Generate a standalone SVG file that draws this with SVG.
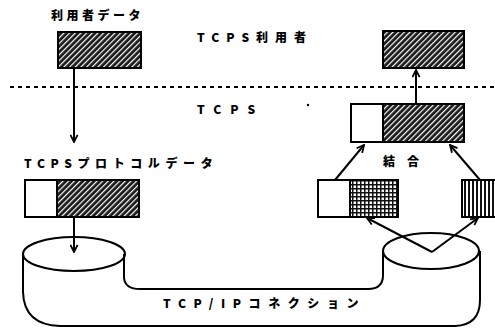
<svg xmlns="http://www.w3.org/2000/svg" width="495" height="329" viewBox="0 0 495 329">
<defs>
<pattern id="hatch" width="4" height="4" patternUnits="userSpaceOnUse" patternTransform="rotate(45)">
<rect width="4" height="4" fill="#1a1a1a"/>
<rect x="0" y="0" width="1.2" height="4" fill="#ffffff"/>
</pattern>
<pattern id="grid" width="4" height="4" patternUnits="userSpaceOnUse">
<rect width="4" height="4" fill="#ffffff"/>
<rect x="0" y="0" width="4" height="1.5" fill="#111"/>
<rect x="0" y="0" width="1.5" height="4" fill="#111"/>
</pattern>
<pattern id="vstripe" width="4" height="4" patternUnits="userSpaceOnUse">
<rect width="4" height="4" fill="#ffffff"/>
<rect x="0" y="0" width="2" height="4" fill="#111"/>
</pattern>
<marker id="ah" viewBox="0 0 10 10" refX="9" refY="5" markerWidth="9" markerHeight="9" orient="auto" markerUnits="userSpaceOnUse">
<path d="M1,1 L9,5 L1,9" fill="none" stroke="#000" stroke-width="2"/>
</marker>
</defs>
<style>
.t{font-family:"Noto Sans CJK JP","DejaVu Sans",sans-serif;font-weight:900;font-size:12px;fill:#000}
.b{stroke:#000;stroke-width:2;fill:none}
.c{stroke:#000;stroke-width:2;fill:none;marker-end:url(#ah)}
</style>
<rect width="495" height="329" fill="#fff"/>

<line x1="10" y1="87" x2="495" y2="87" stroke="#000" stroke-width="2" stroke-dasharray="4,4"/>

<text class="t" x="197" y="42" letter-spacing="7">TCPS利用者</text>
<text class="t" x="197" y="114" letter-spacing="9">TCPS</text>
<circle cx="308" cy="105" r="1.2" fill="#000"/>

<g id="cylinders">
<path class="b" d="M23,254 L23,292 Q24,325 60,326 L455,326 Q480,325 480,300 L480,251"/>
<path class="b" d="M124,254 L124,278 Q125,289 140,289 L368,289 Q383,289 383,275 L383,251"/>
<ellipse class="b" cx="74" cy="254" rx="51" ry="17" fill="#fff"/>
<ellipse class="b" cx="431" cy="251" rx="48" ry="18" fill="#fff"/>
</g>

<g id="connectors">
<line class="c" x1="74" y1="68" x2="74" y2="142"/>
<line class="c" x1="74" y1="217" x2="74" y2="252"/>
<line class="c" x1="416" y1="103" x2="416" y2="70"/>
<line class="c" x1="335" y1="180" x2="364" y2="145"/>
<line class="c" x1="480" y1="180" x2="450" y2="145"/>
<line class="c" x1="432" y1="252" x2="367" y2="218"/>
<line class="c" x1="432" y1="252" x2="478" y2="218"/>
</g>

<g id="user-data">
<text class="t" x="51" y="20" letter-spacing="3.5">利用者データ</text>
<rect x="58" y="32" width="83" height="36" fill="url(#hatch)" stroke="#000" stroke-width="2"/>
</g>

<g id="user-right">
<rect x="383" y="31" width="81" height="37" fill="url(#hatch)" stroke="#000" stroke-width="2"/>
</g>

<g id="protocol-data">
<text class="t" x="24" y="168" letter-spacing="5.6">TCPSプロトコルデータ</text>
<rect x="25" y="180" width="32" height="37" fill="#fff" stroke="#000" stroke-width="2"/>
<rect x="57" y="180" width="82" height="37" fill="url(#hatch)" stroke="#000" stroke-width="2"/>
</g>

<g id="combined">
<rect x="351" y="104" width="32" height="38" fill="#fff" stroke="#000" stroke-width="2"/>
<rect x="383" y="104" width="81" height="38" fill="url(#hatch)" stroke="#000" stroke-width="2"/>
<text class="t" x="383" y="166" font-size="15" letter-spacing="12">結合</text>
</g>

<g id="part1">
<rect x="318" y="180" width="32" height="37" fill="#fff" stroke="#000" stroke-width="2"/>
<rect x="350" y="180" width="48" height="37" fill="url(#grid)" stroke="#000" stroke-width="2"/>
</g>

<g id="part2">
<rect x="462" y="180" width="40" height="37" fill="url(#vstripe)" stroke="#000" stroke-width="2"/>
</g>

<text class="t" x="163" y="308" letter-spacing="7.6">TCP/IPコネクション</text>
</svg>
